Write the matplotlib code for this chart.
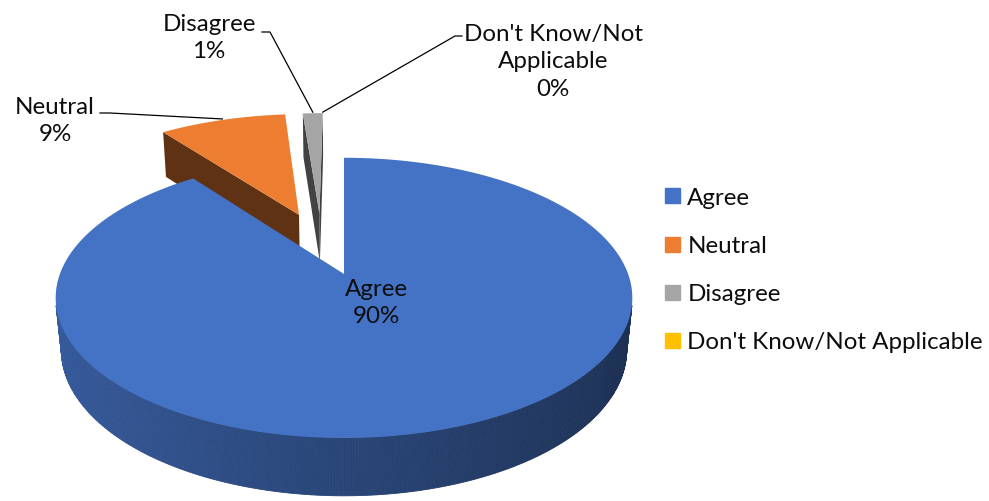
import numpy as np
import matplotlib
matplotlib.use("Agg")
import matplotlib.pyplot as plt
from matplotlib.lines import Line2D
from matplotlib.colors import to_rgb

# ---------------- data ----------------
categories = ["Agree", "Neutral", "Disagree", "Don't Know/Not Applicable"]
values = [89.7, 8.9, 1.4, 0.0]
colors = ["#4472C4", "#ED7D31", "#A5A5A5", "#FFC000"]

# ---------------- style ----------------
explode_dist = [0.0, 0.50, 0.49, 0.49]
explode_dir = [161.5, 340.0, 349.0, 349.0]
FONT = ["Lato", "DejaVu Sans"]
FS = 17.4

# projection of a 3D pie (perspective), screen in pixels
CX, CY = 344.0, 275.0
K, D = 1466.0, 5.16
ALPHA = np.radians(28.6)
H = 0.21
ca, sa = np.cos(ALPHA), np.sin(ALPHA)
CAM = np.array([0.0, -D * ca, D * sa])


def proj(X, Y, Z):
    X = np.asarray(X, float); Y = np.asarray(Y, float); Z = np.asarray(Z, float)
    dist = D + Y * ca - Z * sa
    sx = K * X / dist
    sy = K * (Y * sa + Z * ca) / dist
    return CX + sx, CY - sy


def shade(c, f):
    r, g, b = to_rgb(c)
    return (r * f, g * f, b * f)


fig = plt.figure(figsize=(9.89, 5.02), dpi=100)
ax = fig.add_axes([0, 0, 1, 1])
ax.set_xlim(0, 989)
ax.set_ylim(502, 0)
ax.axis("off")

total = sum(values)
bounds = np.concatenate([[0], np.cumsum(values)]) / total * 360.0

slices = []
for i, v in enumerate(values):
    a0, a1 = bounds[i], bounds[i + 1]
    d = np.radians(explode_dir[i])
    ox, oy = explode_dist[i] * np.sin(d), explode_dist[i] * np.cos(d)
    mid = np.radians((a0 + a1) / 2)
    depth = D + (oy + 0.5 * np.cos(mid)) * ca
    slices.append((depth, i, a0, a1, ox, oy))

# draw far slices first
for depth, i, a0, a1, ox, oy in sorted(slices, key=lambda s: -s[0]):
    if values[i] <= 0:
        continue
    col = colors[i]
    # radial faces
    for edge, sign in ((a0, -1), (a1, 1)):
        e = np.radians(edge)
        n = np.array([np.sin(e + sign * np.pi / 2), np.cos(e + sign * np.pi / 2), 0])
        q = np.array([ox, oy, 0.0])
        if np.dot(CAM - q, n) > 1e-6:
            X = [ox, ox + np.sin(e), ox + np.sin(e), ox]
            Y = [oy, oy + np.cos(e), oy + np.cos(e), oy]
            Z = [0, 0, -H, -H]
            px, py = proj(X, Y, Z)
            ax.fill(px, py, color=shade(col, 0.40), lw=0)
    # outer wall strips
    th = np.radians(np.linspace(a0, a1, max(4, int((a1 - a0) * 2))))
    strips = []
    for t0, t1 in zip(th[:-1], th[1:]):
        tm = 0.5 * (t0 + t1)
        q = np.array([ox + np.sin(tm), oy + np.cos(tm), 0])
        n = np.array([np.sin(tm), np.cos(tm), 0])
        if np.dot(CAM - q, n) > 0:
            dd = D + q[1] * ca
            strips.append((dd, t0, t1, tm))
    for dd, t0, t1, tm in sorted(strips, key=lambda s: -s[0]):
        X = [ox + np.sin(t0), ox + np.sin(t1), ox + np.sin(t1), ox + np.sin(t0)]
        Y = [oy + np.cos(t0), oy + np.cos(t1), oy + np.cos(t1), oy + np.cos(t0)]
        Z = [0, 0, -H, -H]
        px, py = proj(X, Y, Z)
        c = shade(col, 0.61 - 0.19 * np.sin(tm))
        ax.fill(px, py, color=c, ec=c, lw=0.6)
    # top face
    tt = np.radians(np.linspace(a0, a1, max(3, int((a1 - a0) * 2))))
    X = np.concatenate([[ox], ox + np.sin(tt)])
    Y = np.concatenate([[oy], oy + np.cos(tt)])
    px, py = proj(X, Y, np.zeros_like(X))
    ax.fill(px, py, color=col, lw=0)

# ---------------- data labels ----------------
pct = [f"{round(v / total * 100)}%" for v in values]
label_pos = [(376, 303), (55, 121), (209, 38), (553, 62)]
label_txt = [
    f"{categories[0]}\n{pct[0]}",
    f"{categories[1]}\n{pct[1]}",
    f"{categories[2]}\n{pct[2]}",
    "Don't Know/Not\nApplicable\n" + pct[3],
]
for (x, y), t in zip(label_pos, label_txt):
    ax.text(x, y, t, ha="center", va="center", fontsize=FS, family=FONT,
            linespacing=1.4, color="#0d0d0d")

# leader lines: label side points -> outer arc of slice
leaders = {1: [(100, 114), (110, 114)], 2: [(262, 33), (270, 33)], 3: [(462, 37), (455, 37)]}
anchor_frac = {1: 0.5, 2: 0.5, 3: 1.0}
for i, pts in leaders.items():
    _, _, a0, a1, ox, oy = slices[i]
    a = np.radians(a0 + anchor_frac[i] * (a1 - a0))
    axp, ayp = proj(ox + np.sin(a), oy + np.cos(a), 0)
    xs = [p[0] for p in pts] + [float(axp)]
    ys = [p[1] for p in pts] + [float(ayp) - 1]
    ax.plot(xs, ys, color="black", lw=0.9)

# ---------------- legend ----------------
handles = [Line2D([], [], marker="s", ls="", markersize=10.8, color=c) for c in colors]
leg = ax.legend(handles, categories, loc="center left", bbox_to_anchor=(641, 270.5),
                bbox_transform=ax.transData, frameon=False, handlelength=0.8,
                handletextpad=0.22, labelspacing=1.12,
                prop={"family": FONT, "size": FS})
for t in leg.get_texts():
    t.set_color("#0d0d0d")

fig.savefig("out.png", dpi=100)
